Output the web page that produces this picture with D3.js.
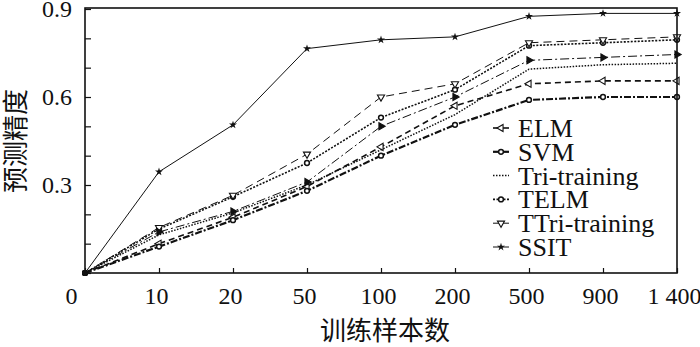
<!DOCTYPE html>
<html>
<head>
<meta charset="utf-8">
<script src="https://cdn.jsdelivr.net/npm/d3@7"></script>
<style>
    body { margin: 0; background: #fff; }
    svg text { fill: #111; }
</style>
</head>
<body>
<div id="chart"></div>
<script>
// training sample counts (categorical x axis)
const sampleSizes = ["0", "10", "20", "50", "100", "200", "500", "900", "1 400"];
const yTicks = [0, 0.1, 0.2, 0.3, 0.4, 0.5, 0.6, 0.7, 0.8, 0.9];
const yLabelled = [0.3, 0.6, 0.9];

const elm = [0, 0.10, 0.19, 0.295, 0.43, 0.57, 0.645, 0.655, 0.655];
const svm = [0, 0.09, 0.18, 0.28, 0.40, 0.505, 0.59, 0.60, 0.60];
const triTraining = [0, 0.13, 0.205, 0.30, 0.42, 0.54, 0.695, 0.71, 0.715];
const telm = [0, 0.15, 0.26, 0.375, 0.53, 0.625, 0.775, 0.785, 0.795];
const ttriTraining = [0, 0.155, 0.265, 0.405, 0.60, 0.645, 0.785, 0.795, 0.805];
const ssit = [0, 0.345, 0.505, 0.765, 0.795, 0.805, 0.875, 0.885, 0.885];
// extra dash-dot series drawn in the plot but missing from the legend
const unlabelled = [0, 0.14, 0.21, 0.31, 0.50, 0.60, 0.725, 0.735, 0.745];

const width = 700;
const height = 347;
const margin = { top: 9, right: 23, bottom: 74, left: 85 };

const serif = "'Liberation Serif', 'Times New Roman', serif";
const cjk = "'Noto Sans CJK SC', sans-serif";

const svg = d3.select("#chart")
    .append("svg")
    .attr("width", width)
    .attr("height", height);

const x = d3.scalePoint()
    .domain(sampleSizes)
    .range([margin.left, width - margin.right]);

const y = d3.scaleLinear()
    .domain([0, 0.9])
    .range([height - margin.bottom, margin.top]);

// series style table
const series = [
    { name: "ELM", values: elm, dash: "6,4", width: 1.6, marker: "left" },
    { name: "SVM", values: svm, dash: "7,2,2,2", width: 2.2, marker: "circle" },
    { name: "Tri-training", values: triTraining, dash: "1.5,1.5", width: 1.5, marker: null },
    { name: "TELM", values: telm, dash: "2,1.5", width: 1.6, marker: "circle" },
    { name: "TTri-training", values: ttriTraining, dash: "8,5", width: 1, marker: "down" },
    { name: "SSIT", values: ssit, dash: null, width: 1, marker: "star" },
    { name: null, values: unlabelled, dash: "9,3,2,3", width: 1, marker: "right" }
];

function drawMarker(g, type, cx, cy) {
    if (!type) return;
    if (type === "circle") {
        g.append("circle")
            .attr("cx", cx).attr("cy", cy).attr("r", 2.4)
            .attr("fill", "#fff").attr("stroke", "#111").attr("stroke-width", 1.5);
        return;
    }
    if (type === "star") {
        g.append("path")
            .attr("d", d3.symbol(d3.symbolStar, 20)())
            .attr("transform", `translate(${cx},${cy})`)
            .attr("fill", "#111");
        return;
    }
    const rot = { left: -90, right: 90, down: 180 }[type];
    const filled = type === "right";
    g.append("path")
        .attr("d", d3.symbol(d3.symbolTriangle, 22)())
        .attr("transform", `translate(${cx},${cy}) rotate(${rot})`)
        .attr("fill", filled ? "#111" : "#fff")
        .attr("stroke", "#111")
        .attr("stroke-width", 1.1);
}

const line = d3.line()
    .x((d, i) => x(sampleSizes[i]))
    .y(d => y(d));

series.forEach(s => {
    svg.append("path")
        .datum(s.values)
        .attr("d", line)
        .attr("fill", "none")
        .attr("stroke", "#111")
        .attr("stroke-width", s.width)
        .attr("stroke-dasharray", s.dash);

    const mg = svg.append("g");
    s.values.forEach((v, i) => {
        if (i === 0) {
            mg.append("circle").attr("cx", x(sampleSizes[i])).attr("cy", y(v)).attr("r", 3).attr("fill", "#111");
            return;
        }
        drawMarker(mg, s.marker, x(sampleSizes[i]), y(v));
    });
});

// frame
svg.append("rect")
    .attr("x", margin.left)
    .attr("y", margin.top - 1)
    .attr("width", width - margin.left - margin.right)
    .attr("height", height - margin.top - margin.bottom + 1)
    .attr("fill", "none")
    .attr("stroke", "#111")
    .attr("stroke-width", 1.6);

// x axis
const xAxis = svg.append("g")
    .attr("transform", `translate(0,${height - margin.bottom})`)
    .call(d3.axisBottom(x).tickSizeInner(-5).tickSizeOuter(0).tickPadding(14));
xAxis.select(".domain").remove();
xAxis.selectAll("line").attr("stroke", "#111").attr("stroke-width", 1.2);
xAxis.selectAll("text")
    .attr("dx", (d, i) => i === 0 ? -14 : -3)
    .style("font-family", serif)
    .style("font-size", "24px")
    .style("fill", "#111");

// y axis
const yAxis = svg.append("g")
    .attr("transform", `translate(${margin.left},0)`)
    .call(d3.axisLeft(y)
        .tickValues(yTicks)
        .tickSizeInner(-6)
        .tickSizeOuter(0)
        .tickPadding(13)
        .tickFormat(d => yLabelled.some(v => Math.abs(v - d) < 1e-9) ? d3.format(".1f")(d) : ""));
yAxis.select(".domain").remove();
yAxis.selectAll("line").attr("stroke", "#111").attr("stroke-width", 1.2);
yAxis.selectAll("text")
    .style("font-family", serif)
    .style("font-size", "24px")
    .style("fill", "#111");

// axis titles
svg.append("text")
    .attr("x", (margin.left + width - margin.right) / 2 + 4)
    .attr("y", 340)
    .attr("text-anchor", "middle")
    .style("font-family", cjk)
    .style("font-size", "26px")
    .text("训练样本数");

svg.append("text")
    .attr("transform", `translate(25,${(margin.top + height - margin.bottom) / 2}) rotate(-90)`)
    .attr("text-anchor", "middle")
    .style("font-family", cjk)
    .style("font-size", "26px")
    .text("预测精度");

// legend
const legend = svg.append("g").attr("transform", "translate(493,128)");
series.filter(s => s.name).forEach((s, i) => {
    const row = legend.append("g").attr("transform", `translate(0,${i * 23.8})`);
    row.append("line")
        .attr("x1", 0).attr("x2", 16)
        .attr("stroke", "#111")
        .attr("stroke-width", s.width)
        .attr("stroke-dasharray", s.dash === "1.5,1.5" || s.dash === "2,1.5" ? s.dash : null);
    drawMarker(row, s.marker, 8, 0);
    row.append("text")
        .attr("x", 25)
        .attr("y", 9)
        .style("font-family", serif)
        .style("font-size", "26px")
        .text(s.name);
});
</script>
</body>
</html>
